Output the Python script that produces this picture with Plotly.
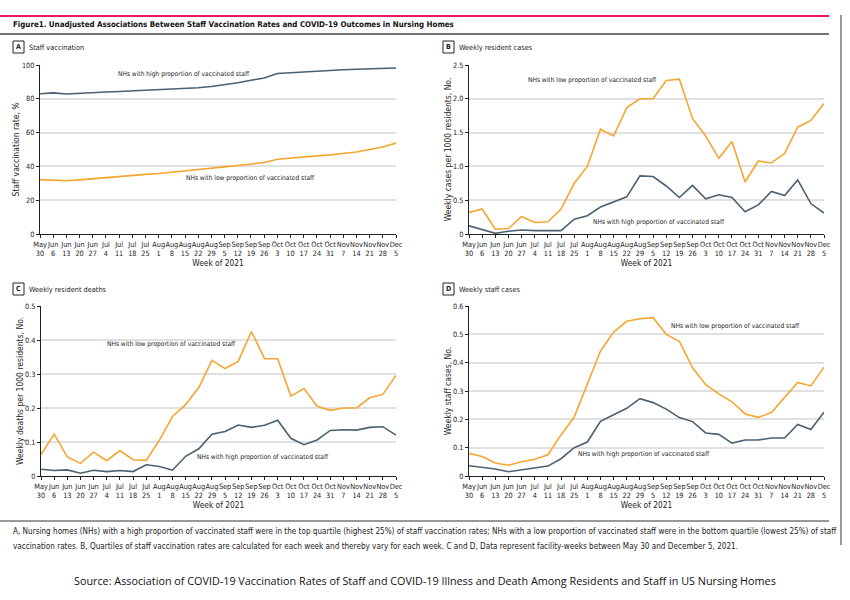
import plotly.graph_objects as go

weeks = ["May<br>30", "Jun<br>6", "Jun<br>13", "Jun<br>20", "Jun<br>27", "Jul<br>4", "Jul<br>11",
         "Jul<br>18", "Jul<br>25", "Aug<br>1", "Aug<br>8", "Aug<br>15", "Aug<br>22", "Aug<br>29",
         "Sep<br>5", "Sep<br>12", "Sep<br>19", "Sep<br>26", "Oct<br>3", "Oct<br>10", "Oct<br>17",
         "Oct<br>24", "Oct<br>31", "Nov<br>7", "Nov<br>14", "Nov<br>21", "Nov<br>28", "Dec<br>5"]

vacc_high = [83, 83.5, 82.8, 83.3, 83.8, 84, 84.3, 84.7, 85, 85.3, 85.7, 86, 86.5, 87.3, 88.3, 89.5,
             91, 92.3, 95, 95.5, 96, 96.5, 96.8, 97.2, 97.5, 97.8, 98, 98.2]
vacc_low = [32.2, 32, 31.5, 32, 32.7, 33.5, 34, 34.5, 35.3, 35.8, 36.5, 37.3, 38, 39, 39.7, 40.5,
            41.3, 42.3, 44.2, 45, 45.7, 46.2, 46.8, 47.5, 48.5, 50, 51.5, 53.8]

res_cases_low = [0.32, 0.37, 0.07, 0.08, 0.26, 0.17, 0.18, 0.37, 0.75, 1.0, 1.55, 1.45, 1.87, 2.0,
                 2.0, 2.27, 2.29, 1.71, 1.45, 1.12, 1.37, 0.77, 1.08, 1.05, 1.19, 1.58, 1.68, 1.93]
res_cases_high = [0.12, 0.07, 0.01, 0.04, 0.06, 0.05, 0.05, 0.05, 0.22, 0.27, 0.40, 0.48, 0.55, 0.86,
                  0.85, 0.71, 0.54, 0.72, 0.52, 0.58, 0.54, 0.33, 0.43, 0.63, 0.57, 0.80, 0.45, 0.31]

deaths_low = [0.063, 0.123, 0.056, 0.037, 0.070, 0.045, 0.075, 0.048, 0.046, 0.105, 0.175, 0.210,
              0.260, 0.340, 0.316, 0.337, 0.425, 0.345, 0.345, 0.235, 0.257, 0.205, 0.193, 0.200,
              0.200, 0.230, 0.240, 0.296]
deaths_high = [0.020, 0.016, 0.018, 0.008, 0.017, 0.013, 0.016, 0.013, 0.033, 0.028, 0.017, 0.058,
               0.080, 0.123, 0.131, 0.150, 0.143, 0.149, 0.164, 0.111, 0.092, 0.106, 0.134, 0.136,
               0.135, 0.143, 0.145, 0.120]

staff_low = [0.080, 0.069, 0.046, 0.038, 0.050, 0.059, 0.075, 0.145, 0.208, 0.326, 0.441, 0.508,
             0.546, 0.555, 0.559, 0.500, 0.475, 0.382, 0.322, 0.290, 0.262, 0.219, 0.207, 0.224,
             0.279, 0.330, 0.318, 0.384]
staff_high = [0.036, 0.031, 0.025, 0.015, 0.022, 0.029, 0.035, 0.061, 0.100, 0.120, 0.193, 0.216,
              0.239, 0.273, 0.259, 0.236, 0.206, 0.192, 0.152, 0.147, 0.116, 0.127, 0.127, 0.134,
              0.134, 0.182, 0.164, 0.225]

ORANGE = "#F5A630"
SLATE = "#4B6070"
FONT = "Liberation Sans Narrow, DejaVu Sans Condensed, sans-serif"
xidx = list(range(len(weeks)))

panels = [
    dict(key="1", letter="A", name="Staff vaccination", high=vacc_high, low=vacc_low,
         yrange=[0, 100], dtick=20, ytitle="Staff vaccination rate, %",
         xd=[40/850, 396/850], yd=[1-234/600, 1-65/600], fmt="d",
         hi_lab=(10.9, 94.7), lo_lab=(16.0, 33.1)),
    dict(key="2", letter="B", name="Weekly resident cases", high=res_cases_high, low=res_cases_low,
         yrange=[0, 2.5], dtick=0.5, ytitle="Weekly cases per 1000 residents, No.",
         xd=[469/850, 824/850], yd=[1-234/600, 1-65/600], fmt=".1f",
         hi_lab=(14.45, 0.18), lo_lab=(9.4, 2.28)),
    dict(key="3", letter="C", name="Weekly resident deaths", high=deaths_high, low=deaths_low,
         yrange=[0, 0.5], dtick=0.1, ytitle="Weekly deaths per 1000 residents, No.",
         xd=[41/850, 396/850], yd=[1-476/600, 1-306/600], fmt=".1f",
         hi_lab=(16.9, 0.056), lo_lab=(9.9, 0.388)),
    dict(key="4", letter="D", name="Weekly staff cases", high=staff_high, low=staff_low,
         yrange=[0, 0.6], dtick=0.1, ytitle="Weekly staff cases, No.",
         xd=[469/850, 824/850], yd=[1-476/600, 1-306/600], fmt=".1f",
         hi_lab=(13.3, 0.078), lo_lab=(20.3, 0.529)),
]

fig = go.Figure()
annotations = []
shapes = []
layout_axes = {}

for p in panels:
    k = p["key"]
    xa = "x" if k == "1" else "x" + k
    ya = "y" if k == "1" else "y" + k
    fig.add_trace(go.Scatter(x=xidx, y=p["high"], mode="lines", line=dict(color=SLATE, width=1.6),
                             xaxis=xa, yaxis=ya, showlegend=False))
    fig.add_trace(go.Scatter(x=xidx, y=p["low"], mode="lines", line=dict(color=ORANGE, width=1.6),
                             xaxis=xa, yaxis=ya, showlegend=False))
    xname = "xaxis" if k == "1" else "xaxis" + k
    yname = "yaxis" if k == "1" else "yaxis" + k
    layout_axes[xname] = dict(domain=p["xd"], anchor=ya, range=[0, 27], tickmode="array",
                              tickvals=xidx, ticktext=weeks, tickangle=0, automargin=False,
                              showline=True, linecolor="#222", linewidth=1.2,
                              ticks="outside", ticklen=3, tickcolor="#222", showgrid=False,
                              zeroline=False, tickfont=dict(family=FONT, size=7.3, color="#222"),
                              title=dict(text="Week of 2021", font=dict(family=FONT, size=8.3, color="#222"),
                                         standoff=0))
    layout_axes[yname] = dict(domain=p["yd"], anchor=xa, range=p["yrange"], dtick=p["dtick"],
                              tickformat=p["fmt"], automargin=False,
                              showline=True, linecolor="#222", linewidth=1.2,
                              ticks="outside", ticklen=3, tickcolor="#222",
                              showgrid=True, gridcolor="#E0E0E0", gridwidth=1.5, zeroline=False,
                              tickfont=dict(family=FONT, size=7.3, color="#222"),
                              title=dict(text=p["ytitle"], font=dict(family=FONT, size=8.5, color="#222"),
                                         standoff=0))
    if k != "1":
        vals = []
        v = 0.0
        while v <= p["yrange"][1] + 1e-9:
            vals.append(round(v, 2))
            v += p["dtick"]
        layout_axes[yname]["tickmode"] = "array"
        layout_axes[yname]["tickvals"] = vals
        layout_axes[yname]["ticktext"] = ["0" if x == 0 else f"{x:.1f}" for x in vals]
    annotations.append(dict(x=p["hi_lab"][0], y=p["hi_lab"][1], xref=xa, yref=ya,
                            text="NHs with high proportion of vaccinated staff", showarrow=False,
                            font=dict(family=FONT, size=6.6, color="#222")))
    annotations.append(dict(x=p["lo_lab"][0], y=p["lo_lab"][1], xref=xa, yref=ya,
                            text="NHs with low proportion of vaccinated staff", showarrow=False,
                            font=dict(family=FONT, size=6.6, color="#222")))
    # panel header
    left_px = 13 if p["letter"] in "AC" else 443
    top_px = 41 if p["letter"] in "AB" else 283
    annotations.append(dict(x=(left_px + 5.5) / 850, y=1 - (top_px + 6) / 600, xref="paper", yref="paper",
                            text="<b>" + p["letter"] + "</b>", showarrow=False, xanchor="center",
                            yanchor="middle", font=dict(family=FONT, size=7, color="#222")))
    shapes.append(dict(type="rect", xref="paper", yref="paper", x0=left_px / 850, x1=(left_px + 11) / 850,
                       y0=1 - (top_px + 12) / 600, y1=1 - top_px / 600, line=dict(color="#222", width=1)))
    annotations.append(dict(x=(left_px + 14) / 850, y=1 - (top_px + 6) / 600, xref="paper", yref="paper",
                            text=p["name"], showarrow=False, xanchor="left", yanchor="middle",
                            font=dict(family=FONT, size=7.3, color="#222")))

# figure title and lines
annotations.append(dict(x=11 / 850, y=1 - 24 / 600, xref="paper", yref="paper",
                        text="Figure1. Unadjusted Associations Between Staff Vaccination Rates and COVID-19 Outcomes in Nursing Homes",
                        showarrow=False, xanchor="left", yanchor="middle",
                        font=dict(family=FONT, size=7.9, color="#111", weight=600)))
shapes.append(dict(type="line", xref="paper", yref="paper", x0=0, x1=829 / 850, y0=1 - 16 / 600, y1=1 - 16 / 600,
                   line=dict(color="#E8185A", width=2)))
shapes.append(dict(type="line", xref="paper", yref="paper", x0=0, x1=829 / 850, y0=1 - 34 / 600, y1=1 - 34 / 600,
                   line=dict(color="#444", width=1.5)))
shapes.append(dict(type="line", xref="paper", yref="paper", x0=841 / 850, x1=841 / 850, y0=1 - 15 / 600, y1=1 - 545 / 600,
                   line=dict(color="#555", width=1.2)))
shapes.append(dict(type="line", xref="paper", yref="paper", x0=0, x1=829 / 850, y0=1 - 521 / 600, y1=1 - 521 / 600,
                   line=dict(color="#333", width=1)))

foot1 = ("A, Nursing homes (NHs) with a high proportion of vaccinated staff were in the top quartile (highest 25%) of staff "
         "vaccination rates; NHs with a low proportion of vaccinated staff were in the bottom quartile (lowest 25%) of staff")
foot2 = ("vaccination rates. B, Quartiles of staff vaccination rates are calculated for each week and thereby vary for each "
         "week. C and D, Data represent facility-weeks between May 30 and December 5, 2021.")
annotations.append(dict(x=11 / 850, y=1 - 531 / 600, xref="paper", yref="paper", text=foot1, showarrow=False,
                        xanchor="left", yanchor="middle", font=dict(family=FONT, size=8.1, color="#222")))
annotations.append(dict(x=11 / 850, y=1 - 546 / 600, xref="paper", yref="paper", text=foot2, showarrow=False,
                        xanchor="left", yanchor="middle", font=dict(family=FONT, size=8.1, color="#222")))
annotations.append(dict(x=425 / 850, y=1 - 580 / 600, xref="paper", yref="paper",
                        text="Source: Association of COVID-19 Vaccination Rates of Staff and COVID-19 Illness and Death Among Residents and Staff in US Nursing Homes",
                        showarrow=False, xanchor="center", yanchor="middle",
                        font=dict(family="Open Sans, sans-serif", size=10.8, color="#111")))

fig.update_layout(width=850, height=600, margin=dict(l=0, r=0, t=0, b=0, autoexpand=False),
                  paper_bgcolor="white", plot_bgcolor="white", annotations=annotations, shapes=shapes,
                  **layout_axes)

fig.write_html("out.html", config={"displayModeBar": False},
               post_script="document.body.style.margin='0px';document.body.style.overflow='hidden';")
